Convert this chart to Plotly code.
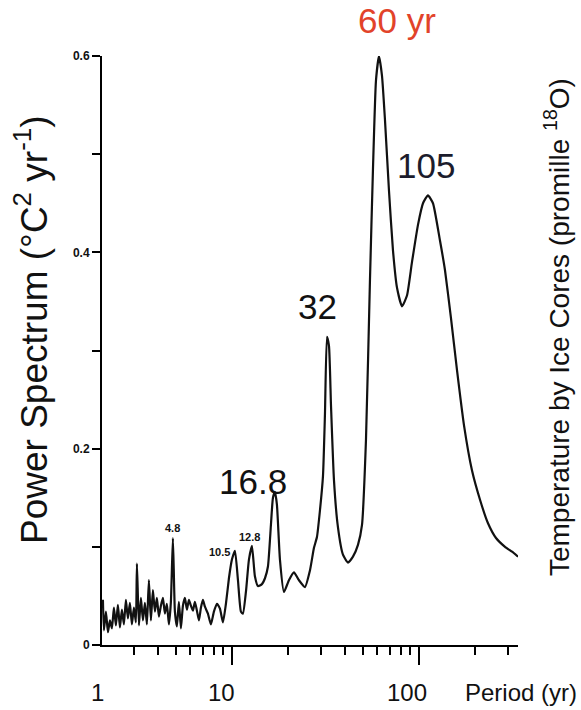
import math
import plotly.graph_objects as go

# Period (yr) and power spectrum values
period = [
    2.043, 2.068, 2.120, 2.173, 2.227, 2.282, 2.339, 2.397, 2.457, 2.518,
    2.581, 2.645, 2.711, 2.779, 2.848, 2.919, 2.992, 3.066, 3.105, 3.182,
    3.262, 3.343, 3.426, 3.511, 3.598, 3.688, 3.780, 3.874, 3.970, 4.070,
    4.171, 4.275, 4.381, 4.490, 4.602, 4.717, 4.835, 4.956, 5.079, 5.206,
    5.336, 5.470, 5.606, 5.746, 5.889, 6.035, 6.186, 6.340, 6.498, 6.660,
    6.826, 6.997, 7.171, 7.441, 7.720, 8.011, 8.315, 8.628, 8.953, 9.288,
    9.638,
    10.0, 10.38, 10.77, 11.17, 11.45, 11.88, 12.33, 12.79, 13.27, 13.77,
    14.47, 15.02, 15.58, 16.17, 16.57, 16.98, 17.40, 18.06, 18.97, 20.17,
    21.46, 22.82, 24.57, 26.13, 27.45, 28.48, 29.55, 30.67, 31.43, 32.21,
    33.02, 33.84, 35.12, 36.88, 39.23, 41.72, 44.37, 47.19, 49.57, 52.08,
    54.70, 56.75, 58.90, 61.11, 63.41, 65.80, 69.12, 72.61, 76.29, 81.13,
    86.28, 91.75, 98.79, 105.1, 111.7, 118.8, 129.5, 137.7, 148.3, 159.7,
    174.0, 192.0, 212.0, 233.9, 258.1, 288.4, 314.4, 338.4,
]
power = [
    0.046, 0.015, 0.034, 0.013, 0.025, 0.017, 0.038, 0.020, 0.041, 0.018,
    0.036, 0.021, 0.046, 0.027, 0.043, 0.021, 0.038, 0.023, 0.083, 0.020,
    0.048, 0.025, 0.043, 0.021, 0.066, 0.025, 0.056, 0.034, 0.048, 0.029,
    0.040, 0.048, 0.032, 0.042, 0.021, 0.044, 0.109, 0.034, 0.019, 0.044,
    0.017, 0.040, 0.048, 0.036, 0.046, 0.040, 0.035, 0.044, 0.035, 0.025,
    0.038, 0.046, 0.039, 0.032, 0.021, 0.034, 0.042, 0.037, 0.023, 0.042,
    0.068,
    0.087, 0.096, 0.066, 0.034, 0.032, 0.054, 0.087, 0.101, 0.070, 0.060,
    0.062, 0.068, 0.080, 0.123, 0.150, 0.156, 0.143, 0.087, 0.054, 0.066,
    0.074, 0.066, 0.059, 0.076, 0.099, 0.110, 0.137, 0.172, 0.235, 0.314,
    0.305, 0.245, 0.168, 0.120, 0.092, 0.084, 0.090, 0.102, 0.122, 0.209,
    0.372, 0.484, 0.575, 0.600, 0.580, 0.535, 0.463, 0.402, 0.364, 0.345,
    0.356, 0.390, 0.428, 0.450, 0.458, 0.450, 0.412, 0.382, 0.333, 0.280,
    0.224, 0.178, 0.148, 0.124, 0.109, 0.100, 0.095, 0.090,
]

y_major = [0, 0.2, 0.4, 0.6]
y_ticktext = ["<b>0</b>", "<b>0.2</b>", "<b>0.4</b>", "<b>0.6</b>"]
y_minor = [0.1, 0.3, 0.5]
x_major = [10, 100]
x_minor = [2, 3, 4, 5, 6, 7, 8, 9, 20, 30, 40, 50, 60, 70, 80, 90, 200, 300]

# peak labels placed near their peaks: (text, period, power, colour)
big_labels = [
    ("105", 109.0, 0.488, "#1c1c2c"),
    ("32", 28.8, 0.345, "#111111"),
    ("16.8", 12.95, 0.167, "#111111"),
]
small_labels = [
    ("4.8", 4.81, 0.119),
    ("10.5", 8.63, 0.0947),
    ("12.8", 12.41, 0.110),
]

FONT = "Arial, Liberation Sans, Helvetica, sans-serif"
INK = "#111111"

fig = go.Figure()
fig.add_trace(go.Scatter(
    x=period, y=power, mode="lines",
    line=dict(color=INK, width=2.2, shape="spline", smoothing=0.5),
    showlegend=False, hoverinfo="skip",
))

ann = []
# "60 yr" sits above the plot top, so anchor it in paper units vertically
ann.append(dict(x=math.log10(76.3), y=1.061, xref="x", yref="paper", text="60 yr",
                showarrow=False, font=dict(family=FONT, size=35, color="#e2432a"),
                xanchor="center", yanchor="middle"))
for t, px, py, c in big_labels:
    ann.append(dict(x=math.log10(px), y=py, xref="x", yref="y", text=t,
                    showarrow=False, font=dict(family=FONT, size=35, color=c),
                    xanchor="center", yanchor="middle"))
for t, px, py in small_labels:
    ann.append(dict(x=math.log10(px), y=py, xref="x", yref="y", text="<b>" + t + "</b>",
                    showarrow=False, font=dict(family=FONT, size=11, color=INK),
                    xanchor="center", yanchor="middle"))
# x tick labels (as in the reference, the axis start is labelled "1")
ann.append(dict(x=-0.01, y=-0.08, xref="paper", yref="paper", text="1", showarrow=False,
                font=dict(family=FONT, size=24, color=INK), xanchor="center", yanchor="middle"))
ann.append(dict(x=1, y=-0.08, xref="x", yref="paper", text="10", showarrow=False, xshift=-10,
                font=dict(family=FONT, size=24, color=INK), xanchor="center", yanchor="middle"))
ann.append(dict(x=2, y=-0.08, xref="x", yref="paper", text="100", showarrow=False, xshift=-12,
                font=dict(family=FONT, size=24, color=INK), xanchor="center", yanchor="middle"))
ann.append(dict(x=1.146, y=-0.08, xref="paper", yref="paper", text="Period (yr)", showarrow=False,
                font=dict(family=FONT, size=24, color=INK), xanchor="right", yanchor="middle"))
# axis titles
ann.append(dict(x=-0.168, y=0.535, xref="paper", yref="paper",
                text="Power Spectrum (°C<sup>2</sup> yr<sup>-1</sup>)", showarrow=False, textangle=-90,
                font=dict(family=FONT, size=37, color=INK), xanchor="center", yanchor="middle"))
ann.append(dict(x=1.094, y=0.54, xref="paper", yref="paper",
                text="Temperature by Ice Cores (promille <sup>18</sup>O)", showarrow=False, textangle=-90,
                font=dict(family=FONT, size=28, color=INK), xanchor="center", yanchor="middle"))

fig.update_layout(
    width=581, height=710,
    margin=dict(l=102, r=63, t=56, b=65),
    paper_bgcolor="white", plot_bgcolor="white",
    annotations=ann,
    xaxis=dict(
        type="log", range=[math.log10(2.02), math.log10(338.4)],
        showline=True, linecolor="black", linewidth=2,
        showgrid=False, zeroline=False,
        tickvals=x_major, showticklabels=False,
        ticks="outside", ticklen=18, tickwidth=1.5, tickcolor="black",
        minor=dict(tickvals=x_minor, ticks="outside", ticklen=8, tickwidth=1.5,
                   tickcolor="black", showgrid=False),
    ),
    yaxis=dict(
        range=[0, 0.6],
        showline=True, linecolor="black", linewidth=2,
        showgrid=False, zeroline=False,
        tickvals=y_major, ticktext=y_ticktext,
        ticks="outside", ticklen=8, tickwidth=1.5, tickcolor="black",
        tickfont=dict(family=FONT, size=12, color=INK),
        minor=dict(tickvals=y_minor, ticks="outside", ticklen=8, tickwidth=1.5,
                   tickcolor="black", showgrid=False),
    ),
)

fig.write_html("out.html")
